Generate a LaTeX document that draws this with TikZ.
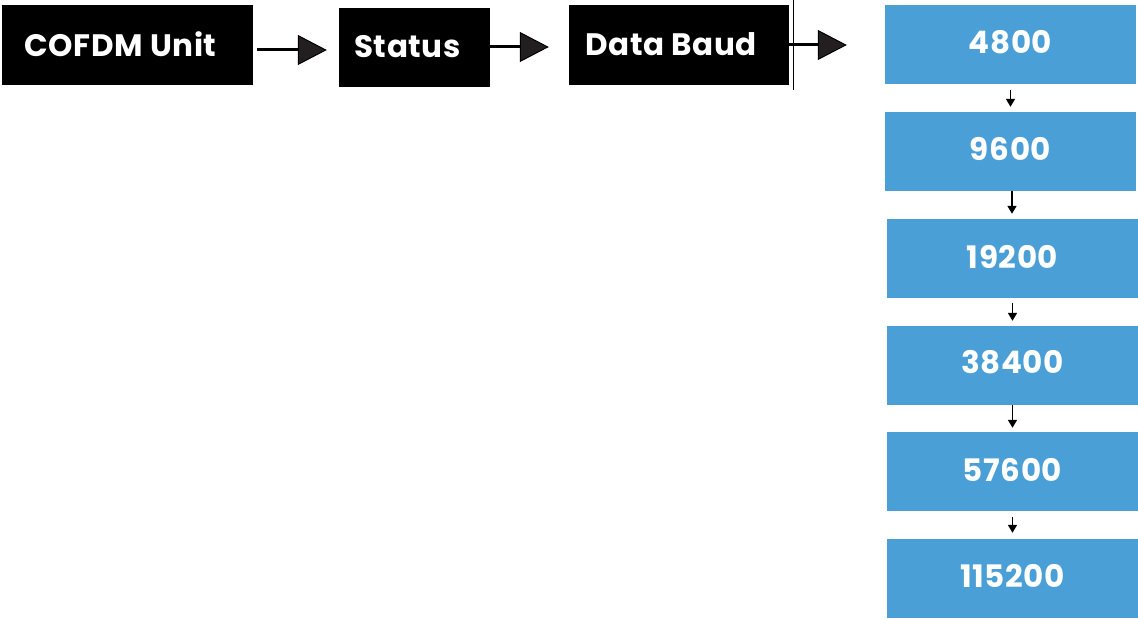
\documentclass[tikz,border=0pt]{standalone}
\usepackage{fontspec}
\setmainfont{Poppins}[LetterSpace=2]
\usetikzlibrary{arrows.meta,calc}
\definecolor{baudblue}{HTML}{4A9FD6}
\definecolor{tipgray}{HTML}{231F20}
\begin{document}
\begin{tikzpicture}[x=1pt,y=-1pt,
  menubox/.style={fill=black,inner sep=0pt,text=white,font=\fontsize{31}{34}\selectfont\bfseries},
  ratebox/.style={fill=baudblue,inner sep=0pt,minimum width=251pt,minimum height=79pt,
    text=white,font=\fontsize{31}{34}\selectfont\bfseries},
  bigarrow/.style={line width=3pt,-{Triangle[length=29pt,width=30pt,fill=tipgray,line width=1pt]}},
  smallarrow/.style={line width=1.6pt,-{Triangle[length=8pt,width=9pt]}}]
\useasboundingbox (0,0) rectangle (1138,620);
% top row of menu levels
\node[menubox,minimum width=251pt,minimum height=80pt] (cofdm) at (127.5,45) {\raisebox{2.5pt}{COFDM Unit}\hspace*{14pt}};
\node[menubox,minimum width=151pt,minimum height=79pt] (status) at (414.5,47.5) {\raisebox{2.5pt}{Status}\hspace*{14pt}};
\node[menubox,minimum width=220pt,minimum height=80pt] (baud) at (679,45) {\raisebox{2.5pt}{Data Baud}\hspace*{16pt}};
\draw[line width=0.8pt] (793,0) -- (793,90);
% baud rate options
\node[ratebox] (r1) at (1010.5,45) {\raisebox{7pt}{4800}};
\node[ratebox] (r2) at (1010.5,151.5) {\raisebox{6pt}{9600}};
\node[ratebox] (r3) at (1012.5,258.5) {\raisebox{4pt}{19200}};
\node[ratebox] (r4) at (1012.5,365.5) {\raisebox{7pt}{38400}};
\node[ratebox] (r5) at (1012.5,471.5) {\raisebox{3pt}{57600}};
\node[ratebox] (r6) at (1012.5,578.5) {\raisebox{5pt}{115200}};
% connectors between menu levels
\draw[bigarrow] ($(cofdm.east)+(4,5)$) -- ($(status.west)+(-12,2.5)$);
\draw[bigarrow] ($(status.east)+(0,-0.5)$) -- ($(baud.west)+(-20,2)$);
\draw[bigarrow] ($(baud.east)+(-12,0)$) -- ($(r1.west)+(-38,0)$);
% connectors between baud rates
\draw[smallarrow] ($(r1.south)+(0,5)$) -- ($(r2.north)+(0,-5)$);
\draw[smallarrow] ($(r2.south)+(1.5,0)$) -- ($(r3.north)+(-0.5,-5)$);
\draw[smallarrow] ($(r3.south)+(0,5)$) -- ($(r4.north)+(0,-5)$);
\draw[smallarrow] ($(r4.south)+(0,0)$) -- ($(r5.north)+(0,-4)$);
\draw[smallarrow] ($(r5.south)+(0,6)$) -- ($(r6.north)+(0,-6)$);
\end{tikzpicture}
\end{document}
